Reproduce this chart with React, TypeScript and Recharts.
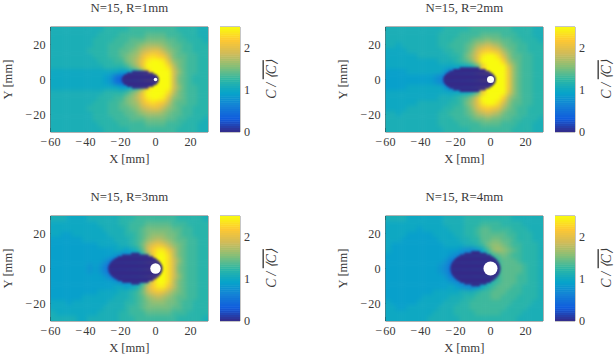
import React from "react";
import { ScatterChart, Scatter, XAxis, YAxis, ReferenceLine, ReferenceArea, ReferenceDot } from "recharts";

// Concentration, in tenths of C/<C>, on 3 mm cells.
const xCells = [-58.5,-55.5,-52.5,-49.5,-46.5,-43.5,-40.5,-37.5,-34.5,-31.5,-28.5,-25.5,-22.5,-19.5,-16.5,-13.5,-10.5,-7.5,-4.5,-1.5,1.5,4.5,7.5,10.5,13.5,16.5,19.5,22.5,25.5,28.5];
const yCells = [28.5,25.5,22.5,19.5,16.5,13.5,10.5,7.5,4.5,1.5,-1.5,-4.5,-7.5,-10.5,-13.5,-16.5,-19.5,-22.5,-25.5,-28.5];

const panelR1 = [
[11,11,11,11,11,11,11,11,11,11,12,12,12,12,12,13,13,13,13,13,13,13,13,13,12,12,12,12,11,11],
[11,11,11,11,11,11,11,11,11,12,12,12,12,13,13,13,13,13,14,14,14,14,13,13,13,12,12,12,11,11],
[11,11,11,11,11,11,11,11,12,12,12,12,13,13,13,14,14,14,15,15,15,15,14,14,13,13,12,12,12,11],
[11,11,11,11,11,11,11,11,12,12,12,13,13,13,14,14,15,16,17,17,17,16,15,14,14,13,13,12,12,12],
[11,11,11,11,11,11,11,12,12,12,12,13,13,14,14,15,16,18,19,20,20,18,16,15,14,13,13,12,12,12],
[11,11,11,11,11,11,11,11,12,12,12,13,13,14,15,16,17,20,22,23,22,21,18,15,14,14,13,13,12,12],
[11,11,11,11,11,11,11,11,11,12,12,12,13,13,15,16,18,21,24,25,25,24,20,16,15,14,13,13,12,12],
[11,11,11,11,11,11,11,11,11,11,12,12,12,12,13,15,17,21,25,25,25,25,23,18,15,14,13,13,12,12],
[10,10,10,10,10,10,10,10,10,10,10,10,10,9,9,10,12,15,22,25,25,25,25,19,16,14,13,13,12,12],
[10,10,10,10,10,10,10,10,10,10,9,8,5,4,5,7,10,15,22,25,25,25,25,19,15,14,13,12,12,12],
[10,10,10,10,10,10,10,10,10,10,9,8,5,4,5,7,10,15,22,25,25,25,25,19,15,14,13,12,12,12],
[10,10,10,10,10,10,10,10,10,10,10,10,10,9,9,10,12,15,22,25,25,25,25,19,16,14,13,13,12,12],
[11,11,11,11,11,11,11,11,11,11,12,12,12,12,13,15,17,21,25,25,25,25,23,18,15,14,13,13,12,12],
[11,11,11,11,11,11,11,11,11,12,12,12,13,13,15,16,18,21,24,25,25,24,20,16,15,14,13,13,12,12],
[11,11,11,11,11,11,11,11,12,12,12,13,13,14,15,16,17,20,22,23,22,21,18,15,14,14,13,13,12,12],
[11,11,11,11,11,11,11,12,12,12,12,13,13,14,14,15,16,18,19,20,20,18,16,15,14,13,13,12,12,12],
[11,11,11,11,11,11,11,11,12,12,12,13,13,13,14,14,15,16,17,17,17,16,15,14,14,13,13,12,12,12],
[11,11,11,11,11,11,11,11,12,12,12,12,13,13,13,14,14,14,15,15,15,15,14,14,13,13,12,12,12,11],
[11,11,11,11,11,11,11,11,11,12,12,12,12,13,13,13,13,13,14,14,14,14,13,13,13,12,12,12,11,11],
[11,11,11,11,11,11,11,11,11,11,12,12,12,12,12,13,13,13,13,13,13,13,13,13,12,12,12,12,11,11],
];

const panelR2 = [
[11,11,11,11,11,11,11,11,11,11,11,12,12,12,12,12,13,13,13,13,13,13,13,13,12,12,12,12,11,11],
[11,11,11,11,11,11,11,11,11,11,12,12,12,12,13,13,13,13,14,14,14,14,13,13,13,12,12,12,11,11],
[11,11,11,11,11,11,11,11,11,11,12,12,12,13,13,13,14,15,15,16,15,15,14,14,13,13,12,12,12,11],
[11,11,10,11,11,11,11,11,11,11,12,12,13,13,13,14,15,17,18,19,18,17,15,14,14,13,13,12,12,12],
[10,10,10,10,11,11,11,11,11,11,11,12,12,13,13,14,16,19,21,22,21,20,17,15,14,13,13,12,12,12],
[10,10,10,10,10,10,11,11,11,11,11,11,12,12,13,15,17,20,24,25,25,23,19,16,14,14,13,13,12,12],
[10,10,10,10,10,10,10,10,10,10,11,11,11,12,13,14,16,20,25,25,25,25,22,17,15,14,13,13,12,12],
[10,10,10,10,10,10,10,10,10,10,10,10,10,10,10,10,11,14,21,25,25,25,25,20,16,14,13,13,12,12],
[9,9,9,9,10,10,10,10,10,10,10,8,6,7,8,9,11,15,22,25,25,25,25,21,16,14,13,13,12,12],
[9,9,9,9,9,9,9,9,9,8,7,5,4,5,6,8,10,14,21,25,25,25,25,21,16,14,13,13,12,12],
[9,9,9,9,9,9,9,9,9,8,7,5,4,5,6,8,10,14,21,25,25,25,25,21,16,14,13,13,12,12],
[9,9,9,9,10,10,10,10,10,10,10,8,6,7,8,9,11,15,22,25,25,25,25,21,16,14,13,13,12,12],
[10,10,10,10,10,10,10,10,10,10,10,10,10,10,10,10,11,14,21,25,25,25,25,20,16,14,13,13,12,12],
[10,10,10,10,10,10,10,10,10,10,11,11,11,12,13,14,16,20,25,25,25,25,22,17,15,14,13,13,12,12],
[10,10,10,10,10,10,11,11,11,11,11,11,12,12,13,15,17,20,24,25,25,23,19,16,14,14,13,13,12,12],
[10,10,10,10,11,11,11,11,11,11,11,12,12,13,13,14,16,19,21,22,21,20,17,15,14,13,13,12,12,12],
[11,11,10,11,11,11,11,11,11,11,12,12,13,13,13,14,15,17,18,19,18,17,15,14,14,13,13,12,12,12],
[11,11,11,11,11,11,11,11,11,11,12,12,12,13,13,13,14,15,15,16,15,15,14,14,13,13,12,12,12,11],
[11,11,11,11,11,11,11,11,11,11,12,12,12,12,13,13,13,13,14,14,14,14,13,13,13,12,12,12,11,11],
[11,11,11,11,11,11,11,11,11,11,11,12,12,12,12,12,13,13,13,13,13,13,13,13,12,12,12,12,11,11],
];

const panelR3 = [
[11,11,11,10,10,10,10,11,11,11,11,11,11,12,12,12,13,13,13,13,13,13,13,13,12,12,12,12,12,11],
[10,10,10,10,10,10,10,10,10,11,11,11,11,12,12,13,13,13,14,14,14,14,14,13,13,13,12,12,12,12],
[10,10,10,10,10,10,10,10,10,10,11,11,11,11,12,13,13,14,15,15,15,15,15,14,14,13,13,12,12,12],
[10,10,9,9,10,10,10,10,10,10,10,11,11,11,12,12,13,14,15,16,16,16,15,15,14,13,13,12,12,12],
[9,9,9,9,9,9,10,10,10,10,10,10,11,11,11,12,13,14,16,17,18,17,16,15,14,14,13,13,12,12],
[9,9,9,9,9,9,9,9,9,10,10,10,10,11,11,12,13,15,18,20,21,20,18,16,15,14,13,13,12,12],
[9,9,9,9,9,9,9,9,9,9,9,9,10,10,9,10,11,14,19,22,24,24,21,18,15,14,13,13,12,12],
[9,9,9,9,9,9,9,9,9,9,9,9,8,7,7,8,9,11,15,21,25,25,23,18,15,14,13,13,12,12],
[9,9,9,9,9,9,9,9,9,9,8,6,5,6,7,8,10,12,16,21,25,25,23,19,16,14,13,13,12,12],
[9,9,9,9,9,9,9,8,9,8,6,4,4,5,6,8,10,12,16,20,24,25,23,19,15,14,13,13,12,12],
[9,9,9,9,9,9,9,8,9,8,6,4,4,5,6,8,10,12,16,20,24,25,23,19,15,14,13,13,12,12],
[9,9,9,9,9,9,9,9,9,9,8,6,5,6,7,8,10,12,16,21,25,25,23,19,16,14,13,13,12,12],
[9,9,9,9,9,9,9,9,9,9,9,9,8,7,7,8,9,11,15,21,25,25,23,18,15,14,13,13,12,12],
[9,9,9,9,9,9,9,9,9,9,9,9,10,10,9,10,11,14,19,22,24,24,21,18,15,14,13,13,12,12],
[9,9,9,9,9,9,9,9,9,10,10,10,10,11,11,12,13,15,18,20,21,20,18,16,15,14,13,13,12,12],
[9,9,9,9,9,9,10,10,10,10,10,10,11,11,11,12,13,14,16,17,18,17,16,15,14,14,13,13,12,12],
[10,10,10,9,10,10,10,10,10,10,10,11,11,11,12,12,13,14,15,16,16,16,15,15,14,13,13,12,12,12],
[10,10,10,10,10,10,10,10,10,10,11,11,11,11,12,13,13,14,15,15,15,15,15,14,14,13,13,12,12,12],
[11,10,10,10,10,10,10,10,10,11,11,11,11,12,12,13,13,13,14,14,14,14,14,13,13,13,12,12,12,12],
[11,11,11,11,11,10,10,11,11,11,11,11,11,12,12,12,13,13,13,13,13,13,13,13,12,12,12,12,12,11],
];

const panelR4 = [
[11,11,11,11,10,10,10,10,10,10,10,11,11,11,11,12,12,12,12,12,12,12,12,12,11,11,11,11,11,11],
[10,10,10,10,10,10,10,10,10,10,10,11,11,11,11,12,12,12,13,13,13,13,12,12,12,12,11,11,11,11],
[10,10,10,10,10,10,9,10,10,10,10,10,11,11,11,12,12,13,14,14,13,13,13,13,12,12,12,11,11,11],
[10,10,10,10,9,9,9,9,9,10,10,10,10,11,11,12,12,13,14,14,14,14,14,13,13,12,12,12,11,11],
[10,10,10,9,9,9,9,9,9,9,10,10,10,10,11,11,12,12,14,14,15,15,14,14,13,12,12,12,11,11],
[10,9,9,9,9,9,9,9,9,9,9,10,10,10,10,11,11,12,13,15,16,16,15,14,13,13,12,12,12,11],
[10,9,9,9,9,9,9,9,9,9,9,9,9,9,8,7,7,8,10,13,16,17,16,15,14,13,12,12,12,11],
[9,9,9,9,9,9,9,9,9,9,9,9,8,7,6,7,7,8,9,11,13,14,15,14,13,13,12,12,12,11],
[9,9,9,9,9,9,9,9,9,9,9,8,6,6,6,7,8,9,10,11,12,13,14,14,14,13,12,12,12,11],
[9,9,9,9,9,9,9,9,9,9,8,7,5,5,6,7,8,9,10,11,12,13,14,14,14,14,13,12,12,11],
[9,9,9,9,9,9,9,9,9,9,8,7,5,5,6,7,8,9,10,11,12,13,14,14,14,14,13,12,12,11],
[9,9,9,9,9,9,9,9,9,9,9,8,6,6,6,7,8,9,10,11,12,13,14,14,14,13,13,12,12,11],
[9,9,9,9,9,9,9,9,9,9,9,9,8,7,6,7,7,8,9,10,12,13,14,14,14,13,13,12,12,11],
[9,9,9,9,9,9,9,9,9,9,9,9,10,9,8,7,7,8,10,12,13,14,14,14,13,13,12,12,12,11],
[9,9,9,9,9,9,9,9,9,10,10,10,10,10,11,11,11,12,13,13,14,14,14,13,13,13,12,12,12,11],
[9,9,9,9,9,9,9,10,10,10,10,10,11,11,11,12,12,13,13,13,14,14,13,13,13,12,12,12,12,11],
[10,9,9,9,9,9,10,10,10,10,10,11,11,11,12,12,13,13,13,13,13,13,13,13,12,12,12,12,11,11],
[10,10,9,9,10,10,10,10,10,10,11,11,11,12,12,12,13,13,13,13,13,13,13,12,12,12,12,11,11,11],
[10,10,10,10,10,10,10,10,10,11,11,11,11,12,12,12,12,13,13,13,13,13,12,12,12,12,11,11,11,11],
[10,10,10,10,10,10,10,10,11,11,11,11,11,11,12,12,12,12,12,12,12,12,12,12,12,11,11,11,11,11],
];

// The zero-concentration region behind each cylinder: [y, xStart, xEnd] on 1 mm rows (mm).
const wakeR1 = [[4.5,-13.4,-4],[3.5,-16.3,-1.1],[2.5,-18,.6],[1.5,-18.9,1.5],[.5,-19.3,1.9],[-.5,-19.3,1.9],[-1.5,-18.9,1.5],[-2.5,-18,.6],[-3.5,-16.3,-1.1],[-4.5,-13.4,-4]];
const wakeR2 = [[6.5,-17.6,-6.4],[5.5,-21.3,-2.7],[4.5,-23.5,-.5],[3.5,-25,1],[2.5,-26,2],[1.5,-26.7,2.7],[.5,-27,3],[-.5,-27,3],[-1.5,-26.7,2.7],[-2.5,-26,2],[-3.5,-25,1],[-4.5,-23.5,-.5],[-5.5,-21.3,-2.7],[-6.5,-17.6,-6.4]];
const wakeR3 = [[8.5,-13.9,-9.1],[7.5,-19.1,-3.9],[6.5,-21.7,-1.3],[5.5,-23.4,.4],[4.5,-24.7,1.7],[3.5,-25.7,2.7],[2.5,-26.3,3.3],[1.5,-26.8,3.8],[.5,-27,4],[-.5,-27,4],[-1.5,-26.8,3.8],[-2.5,-26.3,3.3],[-3.5,-25.7,2.7],[-4.5,-24.7,1.7],[-5.5,-23.4,.4],[-6.5,-21.7,-1.3],[-7.5,-19.1,-3.9],[-8.5,-13.9,-9.1]];
const wakeR4 = [[9.5,-11,-6],[8.5,-15,-2.2],[7.5,-17.4,.2],[6.5,-19,1.8],[5.5,-20.3,3.1],[4.5,-21.2,4],[3.5,-21.9,4.7],[2.5,-22.4,5.2],[1.5,-22.7,5.5],[.5,-22.9,5.7],[-.5,-22.9,5.7],[-1.5,-22.7,5.5],[-2.5,-22.4,5.2],[-3.5,-21.9,4.7],[-4.5,-21.2,4],[-5.5,-20.3,3.1],[-6.5,-19,1.8],[-7.5,-17.4,.2],[-8.5,-15,-2.2],[-9.5,-11,-6]];

const titles = ["N=15, R=1mm", "N=15, R=2mm", "N=15, R=3mm", "N=15, R=4mm"];
const holeRadiiMm = [1, 2, 3, 4];
const panels = [panelR1, panelR2, panelR3, panelR4];
const wakes = [wakeR1, wakeR2, wakeR3, wakeR4];
const xTicks = [-60, -40, -20, 0, 20];
const yTicks = [-20, 0, 20];
const barTicks = [0, 1, 2];
const barLevels = [0,.05,.1,.15,.2,.25,.3,.35,.4,.45,.5,.55,.6,.65,.7,.75,.8,.85,.9,.95,1,1.05,1.1,1.15,1.2,1.25,1.3,1.35,1.4,1.45,1.5,1.55,1.6,1.65,1.7,1.75,1.8,1.85,1.9,1.95,2,2.05,2.1,2.15,2.2,2.25,2.3,2.35,2.4,2.45];

const parula = [[53,42,135],[15,92,221],[20,129,214],[6,164,202],[46,183,164],[135,191,119],[209,187,89],[254,200,50],[249,251,14]];
const colour = (v: number) => {
  const t = Math.max(0, Math.min(1, v / 2.5)) * 8;
  const i = Math.min(7, Math.floor(t));
  const f = t - i;
  const c = parula[i].map((a, k) => Math.round(a + (parula[i + 1][k] - a) * f));
  return `rgb(${c[0]},${c[1]},${c[2]})`;
};

const FONT = "'Liberation Serif', serif";
const INK = "#3a3a3a";
const LEFT = 50.5, TOP = 27, PW = 157.5, PH = 105;
const PX_MM = PW / 90;
const CELL = 3 * PX_MM;
const positions = [[50.5, 27], [385, 27], [50.5, 216], [385, 216]];

const HeatCell = (p: any) => {
  const { cx, cy, payload } = p;
  const ext = 10;
  const l = cx - CELL / 2 - (payload.x === xCells[0] ? ext : 0);
  const r = cx + CELL / 2 + (payload.x === xCells[29] ? ext : 0) + 0.5;
  const t = cy - CELL / 2 - (payload.y === yCells[0] ? ext : 0);
  const b = cy + CELL / 2 + (payload.y === yCells[19] ? ext : 0) + 0.5;
  return <rect x={l} y={t} width={r - l} height={b - t} fill={colour(payload.v / 10)} />;
};
const WakeRow = (p: any) => {
  const w = p.payload.w * PX_MM;
  return <rect x={p.cx - w / 2} y={p.cy - PX_MM / 2} width={w} height={PX_MM + 0.3} fill={colour(0)} />;
};
const BarCell = (p: any) => (
  <rect x={p.cx - 10} y={p.cy - 1.25} width={20} height={2.6} fill={colour(p.payload.y)} />
);

const fmt = (v: number) => (v < 0 ? "\u2212\u200A" + Math.abs(v) : String(v));
const tickStyle = { fontFamily: FONT, fontSize: 12.2, fill: INK };
const axisLabel = { fontFamily: FONT, fontSize: 12.6, fill: INK };
const tickPaint = { stroke: "#000", strokeOpacity: 0.5, strokeWidth: 1 };

function Heat({ idx }: { idx: number }) {
  const grid = panels[idx];
  const data = yCells.flatMap((y, r) => xCells.map((x, c) => ({ x, y, v: grid[r][c] })));
  const wake = wakes[idx].map(([y, a, b]) => ({ x: (a + b) / 2, y, w: b - a }));
  const [px, py] = positions[idx];
  return (
    <div style={{ position: "absolute", left: px - LEFT, top: py - TOP }}>
      <ScatterChart width={215} height={177} margin={{ top: TOP, right: 215 - LEFT - PW, bottom: 0, left: 0 }}>
        <XAxis type="number" dataKey="x" domain={[-60, 30]} ticks={xTicks} allowDataOverflow height={45}
          tickLine={false} axisLine={false} tick={tickStyle} tickSize={0} tickMargin={5} interval={0} tickFormatter={fmt}
          label={{ value: "X [mm]", position: "insideBottom", offset: 14, style: axisLabel }} />
        <YAxis type="number" dataKey="y" domain={[-30, 30]} ticks={yTicks} allowDataOverflow width={LEFT}
          tickLine={false} axisLine={false} tick={tickStyle} tickSize={0} tickMargin={5} interval={0} tickFormatter={fmt}
          label={{ value: "Y [mm]", angle: -90, position: "insideLeft", offset: 8, style: { ...axisLabel, textAnchor: "middle" } }} />
        <Scatter data={data} isAnimationActive={false} shape={HeatCell} className="heat" />
        <Scatter data={wake} isAnimationActive={false} shape={WakeRow} className="wake" />
        <ReferenceDot x={0} y={0} r={holeRadiiMm[idx] * PX_MM} fill="#fff" stroke="none" />
        {xTicks.map((t) => (
          <ReferenceLine key={"b" + t} segment={[{ x: t, y: -30 }, { x: t, y: -27.7 }]} {...tickPaint} />
        ))}
        {xTicks.map((t) => (
          <ReferenceLine key={"t" + t} segment={[{ x: t, y: 30 }, { x: t, y: 27.7 }]} {...tickPaint} />
        ))}
        {yTicks.map((t) => (
          <ReferenceLine key={"l" + t} segment={[{ x: -60, y: t }, { x: -57.7, y: t }]} {...tickPaint} />
        ))}
        {yTicks.map((t) => (
          <ReferenceLine key={"r" + t} segment={[{ x: 30, y: t }, { x: 27.7, y: t }]} {...tickPaint} />
        ))}
        <ReferenceArea x1={-60} x2={30} y1={-30} y2={30} fill="none" stroke="#000" strokeOpacity={0.6} strokeWidth={1} />
        <text x={LEFT + PW / 2} y={12} textAnchor="middle" fontFamily={FONT} fontSize={12.8} fill={INK}>{titles[idx]}</text>
      </ScatterChart>
    </div>
  );
}

function ColourBar({ idx }: { idx: number }) {
  const [px, py] = positions[idx];
  const data = barLevels.map((l) => ({ x: 0.5, y: l + 0.025 }));
  return (
    <div style={{ position: "absolute", left: px + 169.5, top: py - TOP }}>
      <ScatterChart width={70} height={160} margin={{ top: TOP, right: 0, bottom: 28, left: 0 }}>
        <XAxis type="number" dataKey="x" domain={[0, 1]} hide />
        <YAxis type="number" dataKey="y" orientation="right" domain={[0, 2.5]} ticks={barTicks} width={50}
          allowDataOverflow interval={0} tickLine={false} axisLine={false} tick={tickStyle} tickSize={0} tickMargin={4} />
        <Scatter data={data} isAnimationActive={false} shape={BarCell} />
        {barTicks.slice(1).map((t) => (
          <ReferenceLine key={"a" + t} segment={[{ x: 0, y: t }, { x: 0.2, y: t }]} {...tickPaint} />
        ))}
        {barTicks.slice(1).map((t) => (
          <ReferenceLine key={"b" + t} segment={[{ x: 1, y: t }, { x: 0.8, y: t }]} {...tickPaint} />
        ))}
        <ReferenceArea x1={0} x2={1} y1={0} y2={2.5} fill="none" stroke="#000" strokeOpacity={0.45} strokeWidth={1} />
        <text transform={`translate(${55.5},${TOP + PH / 2}) rotate(-90)`} textAnchor="middle" fontFamily={FONT} fontSize={13.6} fill={INK} fontStyle="italic">
          C / <tspan style={{ textDecoration: "overline" }}>⟨C⟩</tspan>
        </text>
      </ScatterChart>
    </div>
  );
}

export default function App() {
  return (
    <div style={{ position: "absolute", left: 0, top: 0, width: 614, height: 358, background: "#fff", overflow: "hidden" }}>
      <style>{`.heat { filter: blur(2px); clip-path: url(#plotClip); } .wake { filter: blur(0.9px); }`}</style>
      <svg width="0" height="0" style={{ position: "absolute" }}>
        <defs>
          <clipPath id="plotClip">
            <rect x={LEFT} y={TOP} width={PW} height={PH} />
          </clipPath>
        </defs>
      </svg>
      {[0, 1, 2, 3].map((i) => <Heat key={i} idx={i} />)}
      {[0, 1, 2, 3].map((i) => <ColourBar key={i} idx={i} />)}
    </div>
  );
}
